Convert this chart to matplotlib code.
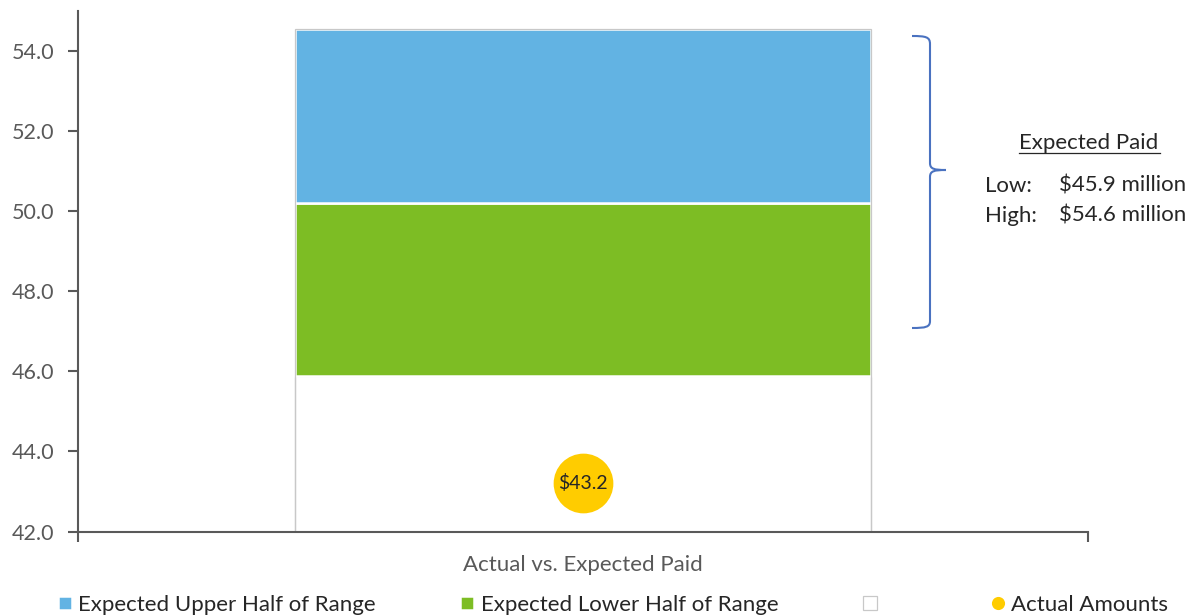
import numpy as np
import matplotlib.pyplot as plt
from matplotlib.path import Path
from matplotlib.patches import PathPatch

# Data
categories = ["Actual vs. Expected Paid"]
expected_low = [45.88]
expected_high = [54.55]
actual_amounts = [43.2]
range_labels = ["$45.9 million", "$54.6 million"]
y_ticks = [42.0, 44.0, 46.0, 48.0, 50.0, 52.0, 54.0]

low = np.array(expected_low)
high = np.array(expected_high)
half = (high - low) / 2

plt.rcParams['font.family'] = ['Lato', 'DejaVu Sans']
grey = '#595959'
dark = '#262626'
W, H = 1198, 616

fig = plt.figure(figsize=(W / 100, H / 100), dpi=100)
ax = fig.add_axes([78 / W, 1 - 531.5 / H, (1088 - 78) / W, (531.5 - 11) / H])

x = np.arange(len(categories))
bw = 0.571
b_base = ax.bar(x, low, bw, color='white', edgecolor='#C8C8C8', linewidth=0.9, zorder=2)
b_low = ax.bar(x, half, bw, bottom=low, color='#7DBD24', edgecolor='white', linewidth=1.8, zorder=2)
b_up = ax.bar(x, half, bw, bottom=low + half, color='#62B3E3', edgecolor='white', linewidth=1.8, zorder=2)
# thin grey outline around the whole stack
ax.bar(x, high, bw, color='none', edgecolor='#C8C8C8', linewidth=0.9, zorder=2.5)
pt, = ax.plot(x, actual_amounts, 'o', ms=43, color='#FFCC00', mec='none', zorder=3)
for xi, v in zip(x, actual_amounts):
    ax.text(xi, v, f"${v:.1f}", ha='center', va='center', fontsize=14, color=dark, zorder=4)

ax.set_xlim(-0.5, 0.5)
ax.set_ylim(42, 55)
ax.set_yticks(y_ticks, labels=[f"{t:.1f}" for t in y_ticks])
ax.set_xticks([-0.5, 0.5], labels=['', ''])
ax.set_xticks(x, labels=categories, minor=True)
ax.tick_params(axis='x', which='minor', length=0, pad=17, labelsize=16, labelcolor=grey)
ax.tick_params(axis='x', which='major', length=7, width=1.5, color=grey)
ax.tick_params(axis='y', length=7, width=1.5, color=grey, labelsize=15.5, labelcolor=grey, pad=10)
for s in ['top', 'right']:
    ax.spines[s].set_visible(False)
for s in ['left', 'bottom']:
    ax.spines[s].set_color(grey)
    ax.spines[s].set_linewidth(1.5)

# Bracket (pixel coordinates converted to figure fraction)
def fx(px):
    return px / W

def fy(py):
    return 1 - py / H

pts = [(912, 36), (926, 36), (930, 37), (930, 44),
       (930, 163),
       (930, 169), (934, 170), (946, 170),
       (934, 170), (930, 171), (930, 177),
       (930, 321),
       (930, 327), (926, 328), (912, 328)]
codes = [Path.MOVETO, Path.CURVE4, Path.CURVE4, Path.CURVE4,
         Path.LINETO,
         Path.CURVE4, Path.CURVE4, Path.CURVE4,
         Path.CURVE4, Path.CURVE4, Path.CURVE4,
         Path.LINETO,
         Path.CURVE4, Path.CURVE4, Path.CURVE4]
path = Path([(fx(a), fy(b)) for a, b in pts], codes)
fig.add_artist(PathPatch(path, fill=False, edgecolor='#4A72C0', linewidth=1.5,
                         transform=fig.transFigure))

fs = 16
fig.text(fx(1089), fy(143), "Expected Paid", ha='center', va='center', fontsize=fs, color=dark)
fig.add_artist(plt.Line2D([fx(1019), fx(1160)], [fy(153), fy(153)], color=dark, lw=0.9,
                          transform=fig.transFigure))
fig.text(fx(985), fy(186), "Low:", ha='left', va='center', fontsize=fs, color=dark)
fig.text(fx(1059), fy(186), range_labels[0], ha='left', va='center', fontsize=fs, color=dark)
fig.text(fx(985), fy(216), "High:", ha='left', va='center', fontsize=fs, color=dark)
fig.text(fx(1059), fy(216), range_labels[1], ha='left', va='center', fontsize=fs, color=dark)

fig.legend([b_up, b_low, b_base, pt],
           ['Expected Upper Half of Range', 'Expected Lower Half of Range', '    ', 'Actual Amounts'],
           loc='center', bbox_to_anchor=(fx(613), fy(605)), ncol=4, frameon=False, fontsize=fs,
           handlelength=0.62, handleheight=0.62, handletextpad=0.3, columnspacing=3.8,
           markerscale=0.22, borderpad=0, labelcolor=dark)

fig.savefig("out.png", dpi=100)
